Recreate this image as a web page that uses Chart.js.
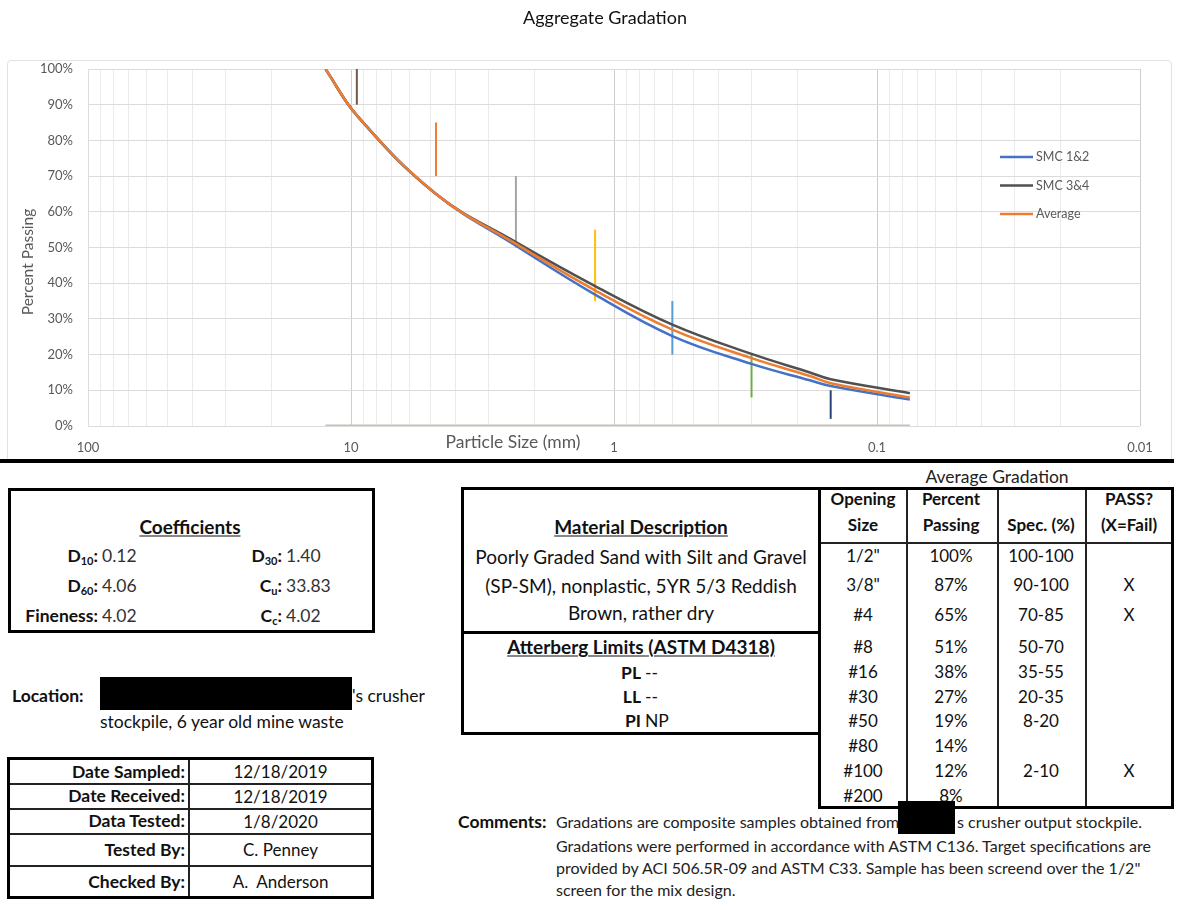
<!DOCTYPE html>
<html>
<head>
<meta charset="utf-8">
<title>Aggregate Gradation</title>
<script src="https://cdn.jsdelivr.net/npm/chart.js@4.4.1/dist/chart.umd.min.js"></script>
<style>
  html, body { margin: 0; padding: 0; background: #fff; }
  body { width: 1178px; height: 910px; position: relative; overflow: hidden;
         font-family: Lato, "Open Sans", sans-serif; color: #111; }
  .abs { position: absolute; white-space: nowrap; }
  #chartWrap { position: absolute; left: 0; top: 0; width: 1178px; height: 458px; }
  #chartFrame { position: absolute; left: 7px; top: 60px; width: 1165px; height: 402px;
                border: 1px solid #e2e2e2; border-radius: 4px; box-sizing: border-box; }
  #rule { position: absolute; left: 0; top: 459px; width: 1174px; height: 4px; background: #000; }
  .box { position: absolute; border: 3px solid #000; box-sizing: border-box; }
  .t16 { font-size: 17.5px; }
  .t19 { font-size: 19px; }
  .b { font-weight: bold; }
  .u { text-decoration: underline; text-underline-offset: 2px; }
  .mid { transform: translateY(-50%); }
  .ctr { transform: translate(-50%, -50%); }
  .redact { position: absolute; background: #000; }
  sub { font-size: 11px; vertical-align: -3px; line-height: 0; }
  #dates { position: absolute; left: 7px; top: 757px; width: 367px; border-collapse: collapse;
           font-size: 17px; border: 3px solid #000; }
  #dates td { border: 2px solid #222; padding: 0 3px; line-height: 1; }
  #dates td.lab { text-align: right; font-weight: bold; width: 172px; font-size: 17.5px; }
  #dates td.val { text-align: center; }
  #grad { position: absolute; left: 818px; top: 487px; width: 356px; height: 322px; }
  .col { position: absolute; top: 0; bottom: 0; border-left: 2px solid #222; }
  .cell { position: absolute; font-size: 17px; transform: translate(-50%, -50%); white-space: nowrap; }
  .cmt { font-size: 16px; color: #222; }
</style>
</head>
<body>
<div id="chartFrame"></div>
<div id="chartWrap"><canvas id="gradChart" width="1178" height="458"></canvas></div>
<div id="rule"></div>

<!-- Coefficients -->
<div class="box" style="left:8px;top:488px;width:367px;height:145px;"></div>
<div class="abs t19 b u ctr" style="left:190px;top:526px;">Coefficients</div>
<div id="coefs"></div>

<!-- Location -->
<div class="abs t16 b mid" style="left:12px;top:695px;">Location:</div>
<div class="redact" style="left:100px;top:677px;width:252px;height:33px;"></div>
<div class="abs t16 mid" style="left:352px;top:695px;">'s crusher</div>
<div class="abs t16 mid" style="left:100px;top:721px;">stockpile, 6 year old mine waste</div>

<!-- Sample record -->
<table id="dates"></table>

<!-- Material description and Atterberg limits -->
<div class="box" style="left:461px;top:487px;width:360px;height:147px;"></div>
<div class="abs t19 b u ctr" style="left:641px;top:526px;">Material Description</div>
<div class="abs t19 ctr" style="left:641px;top:556px;">Poorly Graded Sand with Silt and Gravel</div>
<div class="abs t19 ctr" style="left:641px;top:585px;">(SP-SM), nonplastic, 5YR 5/3 Reddish</div>
<div class="abs t19 ctr" style="left:641px;top:612px;">Brown, rather dry</div>
<div class="box" style="left:461px;top:631px;width:360px;height:104px;"></div>
<div class="abs t19 b u ctr" style="left:641px;top:646px;">Atterberg Limits (ASTM D4318)</div>
<div id="atterberg"></div>

<!-- Average gradation table -->
<div class="abs ctr" style="left:997px;top:476px;font-size:17.5px;color:#222;">Average Gradation</div>
<div id="grad" class="box"></div>

<!-- Comments -->
<div class="abs b mid" style="left:458px;top:821px;font-size:17.5px;">Comments:</div>
<div class="abs cmt mid" style="left:556px;top:821px;">Gradations are composite samples obtained from</div>
<div class="abs cmt mid" style="left:957px;top:821px;">s crusher output stockpile.</div>
<div class="abs cmt mid" style="left:556px;top:845px;">Gradations were performed in accordance with ASTM C136. Target specifications are</div>
<div class="abs cmt mid" style="left:556px;top:867px;">provided by ACI 506.5R-09 and ASTM C33. Sample has been screend over the 1/2"</div>
<div class="abs cmt mid" style="left:556px;top:889px;">screen for the mix design.</div>
<div class="redact" style="left:898px;top:801px;width:57px;height:33px;"></div>

<script>
// Sieve openings and percent passing
const sieveLabels = ['1/2"', '3/8"', '#4', '#8', '#16', '#30', '#50', '#80', '#100', '#200'];
const openingMm = [12.5, 9.5, 4.75, 2.36, 1.18, 0.6, 0.3, 0.18, 0.15, 0.075];
const smc12 = [100, 87, 65, 50.5, 36.8, 25.2, 17.4, 12.8, 11.2, 7.4];
const smc34 = [100, 87, 65, 51.5, 39.2, 28.4, 20.2, 15.0, 13.1, 9.2];
const averagePassing = [100, 87, 65, 51, 38, 27, 19, 14, 12, 8];
const panLine = [0, 0, 0, 0, 0, 0, 0, 0, 0, 0];

// Specification band per sieve (null = no requirement)
const specLow = [100, 90, 70, 50, 35, 20, 8, null, 2, null];
const specHigh = [100, 100, 85, 70, 55, 35, 20, null, 10, null];
const passFail = ['', 'X', 'X', '', '', '', '', '', 'X', ''];

// Axis ticks
const decadeLabels = ['100', '10', '1', '0.1', '0.01'];
const percentTicks = [0, 10, 20, 30, 40, 50, 60, 70, 80, 90, 100];

// Report fields
const coefLeft = [['D<sub>10</sub>:', '0.12'], ['D<sub>60</sub>:', '4.06'], ['Fineness:', '4.02']];
const coefRight = [['D<sub>30</sub>:', '1.40'], ['C<sub>u</sub>:', '33.83'], ['C<sub>c</sub>:', '4.02']];
const recordLabels = ['Date Sampled:', 'Date Received:', 'Data Tested:', 'Tested By:', 'Checked By:'];
const recordValues = ['12/18/2019', '12/18/2019', '1/8/2020', 'C. Penney', 'A.&nbsp; Anderson'];
const atterbergLabels = ['PL', 'LL', 'PI'];
const atterbergValues = ['--', '--', 'NP'];

// ---------- report layout ----------
const coefRows = [555, 585, 615];
let coefHtml = '';
coefRows.forEach((y, i) => {
  coefHtml += `<div class="abs t16 b mid" style="right:${1178 - 98}px;top:${y}px;">${coefLeft[i][0]}</div>`;
  coefHtml += `<div class="abs t16 mid" style="left:102px;top:${y}px;color:#333;">${coefLeft[i][1]}</div>`;
  coefHtml += `<div class="abs t16 b mid" style="right:${1178 - 282}px;top:${y}px;">${coefRight[i][0]}</div>`;
  coefHtml += `<div class="abs t16 mid" style="left:286px;top:${y}px;color:#333;">${coefRight[i][1]}</div>`;
});
document.getElementById('coefs').innerHTML = coefHtml;

const recordHeights = [25, 25, 25, 32, 32];
document.getElementById('dates').innerHTML = recordLabels.map((l, i) =>
  `<tr style="height:${recordHeights[i]}px"><td class="lab">${l}</td><td class="val">${recordValues[i]}</td></tr>`).join('');

const attRows = [672, 696, 720];
document.getElementById('atterberg').innerHTML = attRows.map((y, i) =>
  `<div class="abs t16 b mid" style="right:${1178 - 641}px;top:${y}px;">${atterbergLabels[i]}</div>` +
  `<div class="abs t16 mid" style="left:645px;top:${y}px;">${atterbergValues[i]}</div>`).join('');

// gradation table (coordinates inside the bordered box)
const colEdges = [88, 179, 267];
const colCenters = [45, 133, 223, 311];
const rowCenters = [68, 97, 127, 159, 184, 209, 233, 258, 283, 308];
let gHtml = colEdges.map(x => `<div class="col" style="left:${x - 3}px"></div>`).join('');
gHtml += `<div style="position:absolute;left:0;right:0;top:52px;border-top:2px solid #222"></div>`;
const head = [['Opening', 'Size'], ['Percent', 'Passing'], ['', 'Spec. (%)'], ['PASS?', '(X=Fail)']];
head.forEach((h, c) => {
  gHtml += `<div class="cell b" style="left:${colCenters[c] - 3}px;top:8px">${h[0]}</div>`;
  gHtml += `<div class="cell b" style="left:${colCenters[c] - 3}px;top:34px">${h[1]}</div>`;
});
sieveLabels.forEach((s, r) => {
  const y = rowCenters[r] - 3;
  const spec = specLow[r] === null ? '' : `${specLow[r]}-${specHigh[r]}`;
  gHtml += `<div class="cell" style="left:${colCenters[0] - 3}px;top:${y}px">${s}</div>`;
  gHtml += `<div class="cell" style="left:${colCenters[1] - 3}px;top:${y}px">${averagePassing[r]}%</div>`;
  gHtml += `<div class="cell" style="left:${colCenters[2] - 3}px;top:${y}px">${spec}</div>`;
  gHtml += `<div class="cell" style="left:${colCenters[3] - 3}px;top:${y}px">${passFail[r]}</div>`;
});
document.getElementById('grad').innerHTML = gHtml;

// ---------- chart ----------
const specColors = ['#4472C4', '#765848', '#ED7D31', '#A5A5A5', '#FFC000', '#5B9BD5', '#70AD47', '#888888', '#264478', '#888888'];

// log grid: 1..9 within each decade from 0.01 to 100
const gridValues = [];
for (let e = -2; e <= 1; e++) {
  for (let m = 1; m <= 9; m++) gridValues.push(Number((m * Math.pow(10, e)).toPrecision(3)));
}
gridValues.push(100);
const isDecade = v => Math.abs(Math.log10(v) - Math.round(Math.log10(v))) < 1e-9;

const pts = ys => openingMm.map((x, i) => ({ x: x, y: ys[i] }));

const datasets = [
  { label: 'SMC 1&2', data: pts(smc12), borderColor: '#4472C4', borderWidth: 2.5, order: 2 },
  { label: 'SMC 3&4', data: pts(smc34), borderColor: '#505050', borderWidth: 2.5, order: 1 },
  { label: 'Average', data: pts(averagePassing), borderColor: '#ED7D31', borderWidth: 2.5, order: 0 },
  { label: 'Pan', data: pts(panLine), borderColor: '#c9c0b4', borderWidth: 3, tension: 0, order: 5 }
];
openingMm.forEach((x, i) => {
  if (specLow[i] === null) return;
  datasets.push({
    label: 'Spec ' + sieveLabels[i],
    data: [{ x: x, y: specLow[i] }, { x: x, y: specHigh[i] }],
    borderColor: specColors[i], borderWidth: 2, tension: 0, order: 3
  });
});
datasets.forEach(d => { d.pointRadius = 0; d.fill = false; if (d.tension === undefined) d.tension = 0.4; });

const captions = {
  id: 'captions',
  afterDraw(chart) {
    const ctx = chart.ctx;
    ctx.save();
    ctx.textAlign = 'center';
    ctx.textBaseline = 'middle';
    ctx.fillStyle = '#111';
    ctx.font = '18px Lato';
    ctx.fillText('Aggregate Gradation', 605, 18);
    ctx.fillStyle = '#595959';
    ctx.font = '17.5px Lato';
    ctx.fillText('Particle Size (mm)', 513, 442);
    ctx.font = '15.5px Lato';
    ctx.translate(28, 262);
    ctx.rotate(-Math.PI / 2);
    ctx.fillText('Percent Passing', 0, 0);
    ctx.restore();

    // series key
    ctx.save();
    ctx.font = '12.5px Lato';
    ctx.textAlign = 'left';
    ctx.textBaseline = 'middle';
    chart.data.datasets.slice(0, 3).forEach((d, i) => {
      const y = 157 + i * 28.5;
      ctx.strokeStyle = d.borderColor;
      ctx.lineWidth = 2.5;
      ctx.beginPath();
      ctx.moveTo(1000, y);
      ctx.lineTo(1033, y);
      ctx.stroke();
      ctx.fillStyle = '#595959';
      ctx.fillText(d.label, 1036, y);
    });
    ctx.restore();
  }
};

function drawChart() {
  new Chart(document.getElementById('gradChart'), {
    type: 'line',
    data: { datasets: datasets },
    plugins: [captions],
    options: {
      responsive: false,
      animation: false,
      layout: { padding: { left: 0, right: 38, top: 69, bottom: 0 } },
      plugins: {
        legend: { display: false },
        tooltip: { enabled: false },
        title: { display: false }
      },
      scales: {
        x: {
          type: 'logarithmic',
          reverse: true,
          min: 0.01,
          max: 100,
          afterBuildTicks: s => { s.ticks = gridValues.map(v => ({ value: v, major: isDecade(v) })); },
          afterFit: s => { s.height = 32; },
          ticks: {
            autoSkip: false,
            maxRotation: 0,
            padding: 14,
            color: '#595959',
            font: { family: 'Lato', size: 13 },
            callback: v => isDecade(v) ? decadeLabels[Math.round(2 - Math.log10(v))] : ''
          },
          grid: {
            drawTicks: false,
            tickLength: 0,
            color: c => (c.tick && isDecade(c.tick.value)) ? '#cdcdcd' : '#ebebeb',
            lineWidth: 1
          },
          border: { display: false }
        },
        y: {
          min: 0,
          max: 100,
          afterBuildTicks: s => { s.ticks = percentTicks.map(v => ({ value: v })); },
          afterFit: s => { s.width = 88; },
          ticks: {
            padding: 15,
            color: '#595959',
            font: { family: 'Lato', size: 13 },
            callback: v => v + '%'
          },
          grid: { drawTicks: false, tickLength: 0, color: '#dcdcdc' },
          border: { display: true, color: '#dcdcdc' }
        }
      }
    }
  });
}

if (document.fonts && document.fonts.load) {
  Promise.all([document.fonts.load('13px Lato'), document.fonts.load('bold 16px Lato')])
    .then(drawChart, drawChart);
} else {
  drawChart();
}
</script>
</body>
</html>
